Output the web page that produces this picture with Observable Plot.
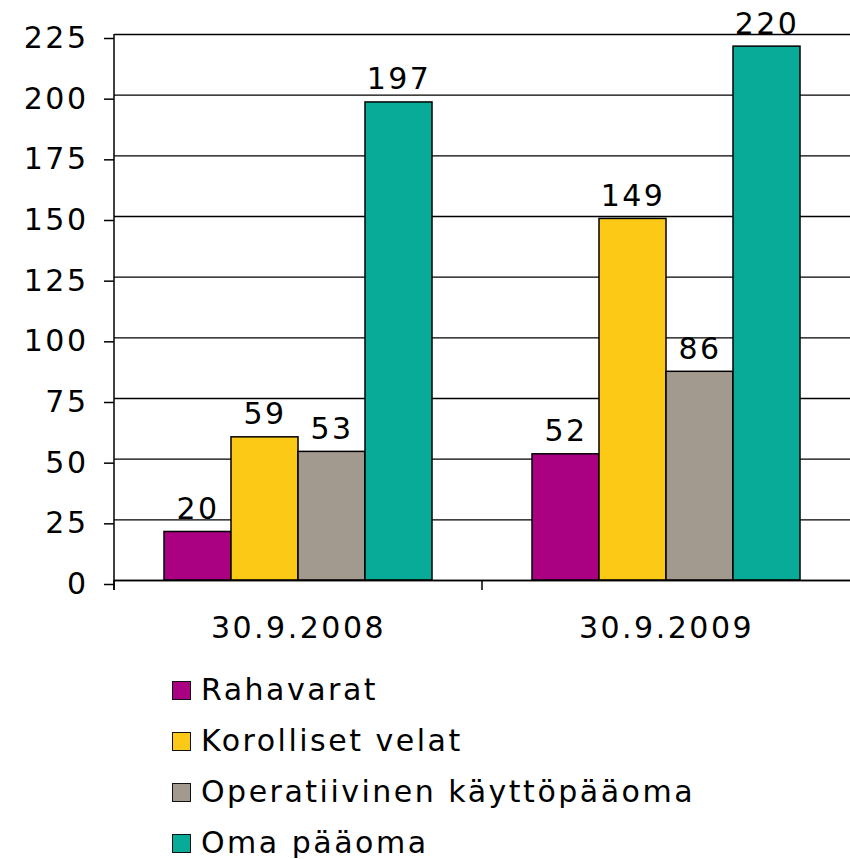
<!DOCTYPE html>
<html>
<head>
<meta charset="utf-8">
<script src="https://cdn.jsdelivr.net/npm/d3@7"></script>
<script src="https://cdn.jsdelivr.net/npm/@observablehq/plot@0.6"></script>
<style>
  body { margin: 0; background: #fff; font-family: "DejaVu Sans", Verdana, sans-serif; overflow: hidden; }
  #legend { padding: 15px 0 0 172px; font-size: 30px; letter-spacing: 2.5px; color: #000; display: flex; flex-direction: column; gap: 21px; }
  .row { display: flex; align-items: center; height: 30px; line-height: 30px; }
  .sw { width: 17px; height: 17px; border: 1.5px solid #111; margin-right: 10px; }
</style>
</head>
<body>
<div id="chart"></div>
<div id="legend"></div>
<script>
const dates = ["30.9.2008", "30.9.2009"];
const series = ["Rahavarat", "Korolliset velat", "Operatiivinen käyttöpääoma", "Oma pääoma"];
const values2008 = [20, 59, 53, 197];
const values2009 = [52, 149, 86, 220];
const colors = ["#AA0082", "#FCC917", "#A39A8F", "#08AA98"];
const yTicks = [0, 25, 50, 75, 100, 125, 150, 175, 200, 225];

const data = [];
[values2008, values2009].forEach((vals, i) => {
  vals.forEach((v, j) => data.push({date: dates[i], series: series[j], value: v}));
});

const chart = Plot.plot({
  width: 850,
  height: 660,
  marginTop: 34,
  marginBottom: 80,
  marginLeft: 113,
  marginRight: 0,
  style: {fontFamily: "'DejaVu Sans', Verdana, sans-serif", fontSize: "30px", letterSpacing: "2.5px", color: "#000", background: "#fff"},
  fx: {domain: dates, padding: 0, axis: null, label: null},
  x: {domain: series, paddingInner: 0, paddingOuter: 0.73, axis: null, label: null},
  y: {domain: [0, 225], axis: null, label: null},
  color: {domain: series, range: colors},
  marks: [
    Plot.gridY(yTicks, {stroke: "#000", strokeOpacity: 1, strokeWidth: 1.4}),
    Plot.barY(data, {fx: "date", x: "series", y: "value", fill: "series", stroke: "#000", strokeWidth: 1.5}),
    Plot.text(data, {fx: "date", x: "series", y: "value", text: d => String(d.value), dy: -13, lineAnchor: "bottom", fill: "#000"}),
    Plot.ruleY([0], {stroke: "#000", strokeWidth: 1.5}),
    Plot.axisY({ticks: yTicks, tickSize: 10, tickPadding: 16, dy: 4, stroke: "#000", strokeWidth: 1.5, fill: "#000", label: null}),
    Plot.axisFx({anchor: "bottom", tickSize: 0, tickPadding: 36, fill: "#000", label: null})
  ]
});

// y-axis line and category boundary ticks, positioned with the chart's own scales
const fx = chart.scale("fx");
const y = chart.scale("y");
const svg = d3.select(chart);
const y0 = y.apply(0), yTop = y.apply(225);
const xLeft = fx.apply(dates[0]);
svg.append("line").attr("x1", xLeft).attr("x2", xLeft).attr("y1", yTop).attr("y2", y0 + 10)
  .attr("stroke", "#000").attr("stroke-width", 1.5);
dates.forEach(d => {
  const xb = fx.apply(d);
  svg.append("line").attr("x1", xb).attr("x2", xb).attr("y1", y0).attr("y2", y0 + 10)
    .attr("stroke", "#000").attr("stroke-width", 1.5);
});

document.getElementById("chart").appendChild(chart);

const legend = document.getElementById("legend");
series.forEach((s, i) => {
  const row = document.createElement("div");
  row.className = "row";
  const sw = document.createElement("div");
  sw.className = "sw";
  sw.style.background = colors[i];
  const label = document.createElement("span");
  label.textContent = s;
  row.appendChild(sw);
  row.appendChild(label);
  legend.appendChild(row);
});
</script>
</body>
</html>
